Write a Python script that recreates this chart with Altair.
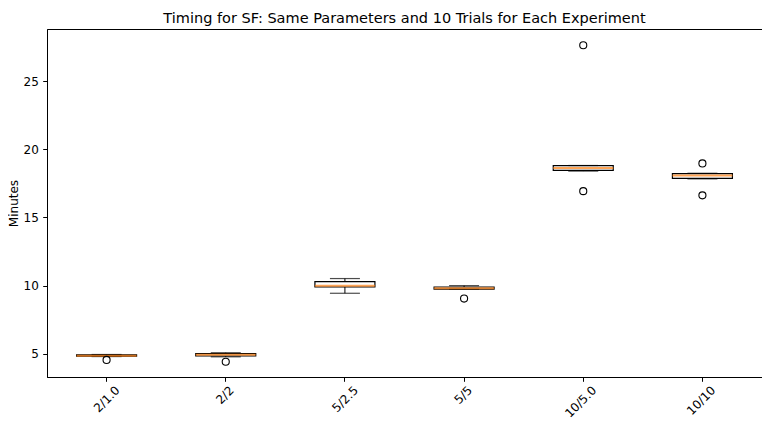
import altair as alt
import pandas as pd

categories = ["2/1.0", "2/2", "5/2.5", "5/5", "10/5.0", "10/10"]
whisker_low = [4.80, 4.78, 9.44, 9.74, 18.40, 17.83]
q1 = [4.82, 4.84, 9.90, 9.75, 18.45, 17.87]
median = [4.86, 4.93, 10.00, 9.80, 18.62, 18.07]
q3 = [4.92, 5.02, 10.30, 9.90, 18.80, 18.22]
whisker_high = [4.95, 5.08, 10.52, 10.00, 18.81, 18.24]
outlier_cat = ["2/1.0", "2/2", "5/5", "10/5.0", "10/5.0", "10/10", "10/10"]
outlier_val = [4.55, 4.42, 9.05, 27.63, 16.93, 18.96, 16.62]
y_ticks = [5, 10, 15, 20, 25]
y_domain = [3.3, 28.82]

box_df = pd.DataFrame({
    "cat": categories, "wl": whisker_low, "q1": q1,
    "med": median, "q3": q3, "wh": whisker_high,
})
out_df = pd.DataFrame({"cat": outlier_cat, "value": outlier_val})

FONT = "DejaVu Sans"

x_axis = alt.Axis(
    title=None, labelAngle=-45, labelAlign="right", labelBaseline="top",
    labelOffset={"condition": {"test": "length(datum.label) <= 3", "value": 2.5}, "value": 7.5},
    labelPadding=3, tickSize=4.3, tickColor="black", tickWidth=1,
    domainColor="black", labelColor="black", labelFont=FONT, labelFontSize=12,
    grid=False,
)
y_axis = alt.Axis(
    title="Minutes", values=y_ticks, labelPadding=4.3, tickSize=4.3,
    tickColor="black", tickWidth=1, domainColor="black", labelColor="black",
    labelFont=FONT, labelFontSize=12, titleFont=FONT, titleFontSize=12,
    titleFontWeight="normal", titleColor="black", titlePadding=3, grid=False,
)
x_scale = alt.Scale(domain=categories, paddingInner=0, paddingOuter=0)
y_scale = alt.Scale(domain=y_domain, nice=False, zero=False)


def X():
    return alt.X("cat:N", sort=categories, scale=x_scale, axis=x_axis)


def Y(field):
    return alt.Y(f"{field}:Q", scale=y_scale, axis=y_axis)


base = alt.Chart(box_df)

whisker_lo = base.mark_rule(color="black", strokeWidth=1).encode(
    x=X(), y=Y("wl"), y2="q1:Q"
)
whisker_hi = base.mark_rule(color="black", strokeWidth=1).encode(
    x=X(), y=Y("q3"), y2="wh:Q"
)
boxes = base.mark_bar(size=60, fill="white", fillOpacity=0, stroke="black", strokeWidth=1.2).encode(
    x=X(), y=Y("q1"), y2="q3:Q"
)
cap_low = base.mark_tick(size=30, thickness=1.2, color="black").encode(x=X(), y=Y("wl"))
cap_high = base.mark_tick(size=30, thickness=1.2, color="black").encode(x=X(), y=Y("wh"))
medians = base.mark_tick(size=60, thickness=2, color="#ff7f0e").encode(x=X(), y=Y("med"))
outliers = alt.Chart(out_df).mark_point(
    shape="circle", filled=False, size=50, color="black", strokeWidth=1.1, opacity=1
).encode(x=X(), y=Y("value"))

chart = alt.layer(whisker_lo, whisker_hi, boxes, cap_low, cap_high, medians, outliers).properties(
    width=715,
    height=348,
    padding={"left": 39, "top": 21, "right": 0, "bottom": 42},
    autosize=alt.AutoSizeParams(type="none"),
    title=alt.TitleParams(
        "Timing for SF: Same Parameters and 10 Trials for Each Experiment",
        font=FONT, fontSize=14.5, fontWeight="normal", color="black",
        anchor="middle", offset=7, baseline="alphabetic", dy=15,
    ),
).configure_view(stroke="black", strokeWidth=1)

chart.save("out.html", embed_options={"renderer": "svg", "actions": False})
